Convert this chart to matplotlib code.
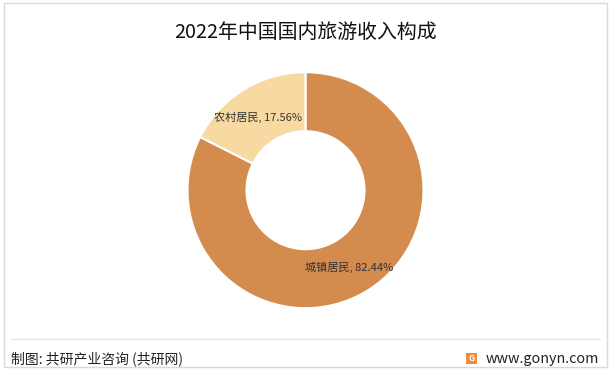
import matplotlib.pyplot as plt
from matplotlib.patches import Rectangle

plt.rcParams['font.family'] = ['Noto Sans CJK SC', 'DejaVu Sans']

# 数据
categories = ['城镇居民', '农村居民']
shares = [82.44, 17.56]
colors = ['#D48C4E', '#F8D9A2']

fig = plt.figure(figsize=(6.11, 3.70), dpi=100)

# 外框与页脚分隔线
fig.patches.append(Rectangle((0.006, 0.008), 0.988, 0.984, transform=fig.transFigure,
                             fill=False, edgecolor='#D9D9D9', linewidth=1.0))
fig.add_artist(plt.Line2D([0.018, 0.982], [0.085, 0.085], color='#E3E3E3', linewidth=0.8))

# 环形图：中心约 (305, 190) px，外半径约 117 px
w = 236 / 611
h = 236 / 370
ax = fig.add_axes([0.5 - w / 2, 0.486 - h / 2, w, h])
wedges, _ = ax.pie(shares, colors=colors, startangle=90, counterclock=False,
                   wedgeprops=dict(width=0.5, edgecolor='white', linewidth=1.5))
ax.set_aspect('equal')
ax.set_xlim(-1, 1)
ax.set_ylim(-1, 1)

ax.text(-0.4, 0.62, f'{categories[1]}, {shares[1]:.2f}%', fontsize=8, color='#333333',
        ha='center', va='center')
ax.text(0.37, -0.65, f'{categories[0]}, {shares[0]:.2f}%', fontsize=8, color='#333333',
        ha='center', va='center')

fig.text(0.5, 0.913, '2022年中国国内旅游收入构成', fontsize=14.3, color='#111111',
         ha='center', va='center')

fig.text(0.018, 0.031, '制图: 共研产业咨询 (共研网)', fontsize=10, color='#222222',
         ha='left', va='center')
fig.text(0.981, 0.031, 'www.gonyn.com', fontsize=10.3, color='#222222',
         ha='right', va='center')
fig.patches.append(Rectangle((0.763, 0.017), 0.018, 0.029, transform=fig.transFigure,
                             facecolor='#F28C3C', edgecolor='none'))
fig.text(0.772, 0.032, 'G', fontsize=6, color='white', fontweight='bold',
         ha='center', va='center')

fig.savefig('out.png', dpi=100)
